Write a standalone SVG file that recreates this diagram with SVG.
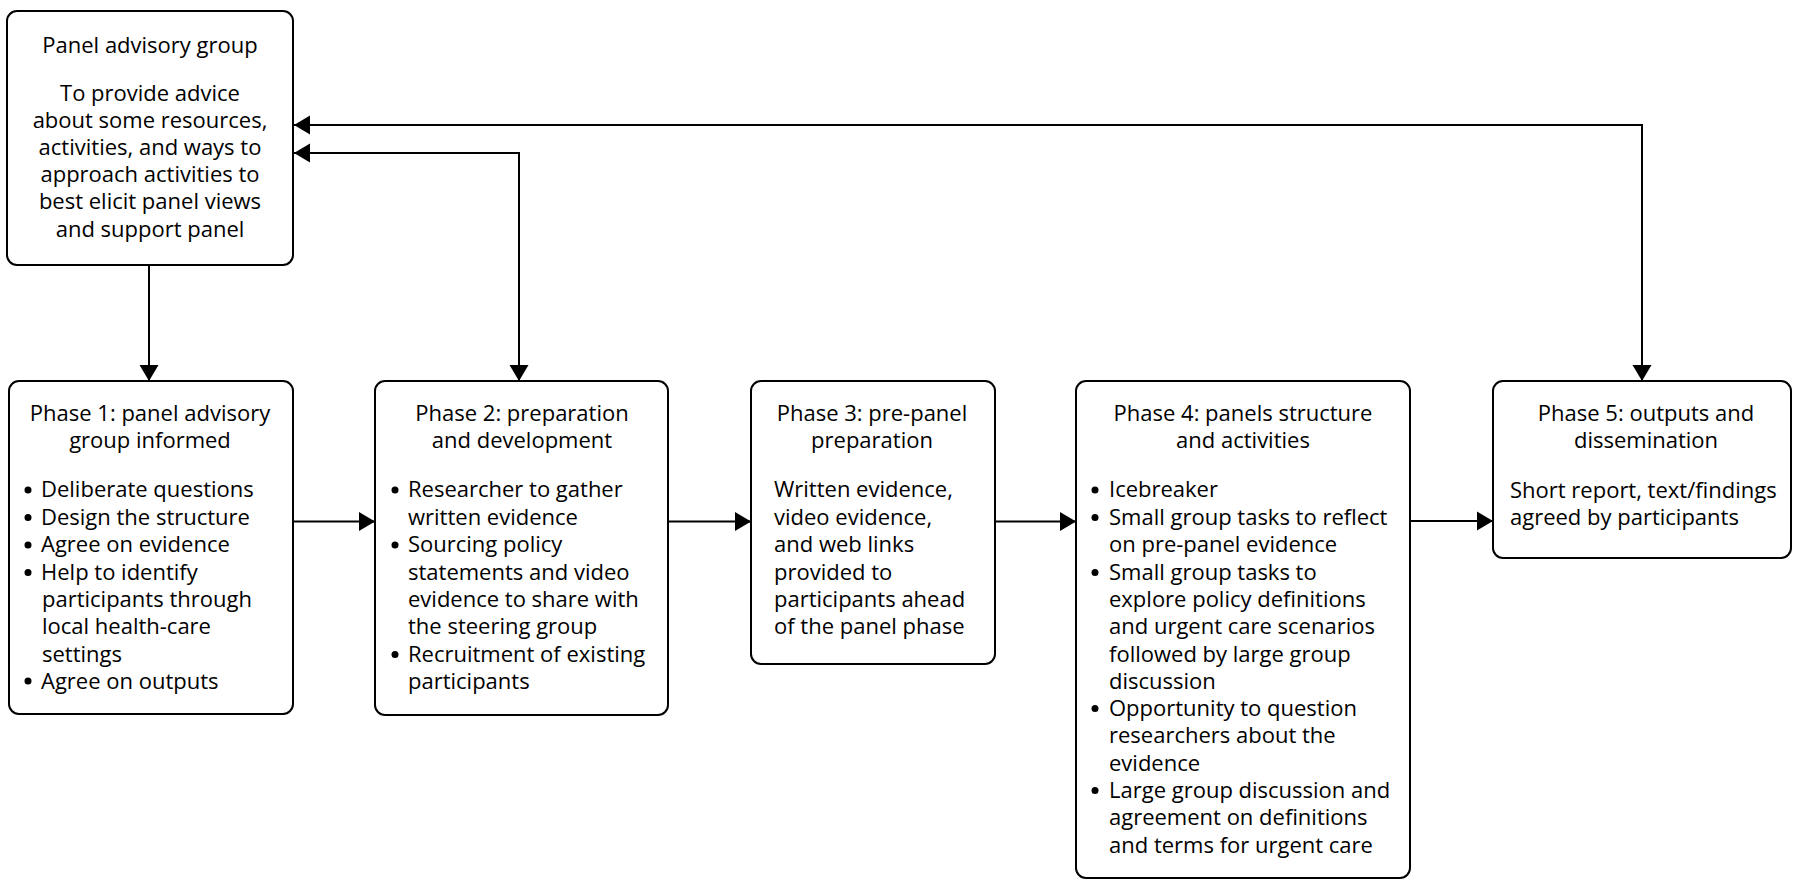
<svg xmlns="http://www.w3.org/2000/svg" width="1794" height="880" viewBox="0 0 1794 880">
<style>
.box{fill:#fff;stroke:#000;stroke-width:2}
text{font-family:"Open Sans","Noto Sans","Liberation Sans",sans-serif;font-size:22px;fill:#000}
.c{text-anchor:middle}
.conn{fill:none;stroke:#000;stroke-width:2}
.dot{fill:#000}
</style>
<defs>
<marker id="ah" markerUnits="userSpaceOnUse" markerWidth="17" markerHeight="20" refX="16" refY="10" orient="auto-start-reverse">
<path d="M0,0.5 L16,10 L0,19.5 z" fill="#000"/>
</marker>
</defs>
<g id="connectors">
<line class="conn" x1="149" y1="265" x2="149" y2="381" marker-end="url(#ah)"/>
<polyline class="conn" points="519,381 519,153 294,153" marker-start="url(#ah)" marker-end="url(#ah)"/>
<polyline class="conn" points="1642,381 1642,125 294,125" marker-start="url(#ah)" marker-end="url(#ah)"/>
<line class="conn" x1="293" y1="521.5" x2="375" y2="521.5" marker-end="url(#ah)"/>
<line class="conn" x1="668" y1="521.5" x2="751" y2="521.5" marker-end="url(#ah)"/>
<line class="conn" x1="995" y1="521.5" x2="1076" y2="521.5" marker-end="url(#ah)"/>
<line class="conn" x1="1410" y1="521" x2="1493" y2="521" marker-end="url(#ah)"/>
</g>
<g id="panel-advisory">
<rect class="box" x="7" y="11" width="286" height="254" rx="10"/>
<text class="c" x="150" y="53">Panel advisory group</text>
<text class="c" x="150" y="101">To provide advice</text>
<text class="c" x="150" y="128">about some resources,</text>
<text class="c" x="150" y="155">activities, and ways to</text>
<text class="c" x="150" y="182">approach activities to</text>
<text class="c" x="150" y="209">best elicit panel views</text>
<text class="c" x="150" y="237">and support panel</text>
</g>
<g id="phase1">
<rect class="box" x="9" y="381" width="284" height="333" rx="10"/>
<text class="c" x="150" y="421">Phase 1: panel advisory</text>
<text class="c" x="150" y="448">group informed</text>
<circle class="dot" cx="28" cy="490" r="3.5"/>
<text x="41" y="497">Deliberate questions</text>
<circle class="dot" cx="28" cy="517.5" r="3.5"/>
<text x="41" y="525">Design the structure</text>
<circle class="dot" cx="28" cy="545" r="3.5"/>
<text x="41" y="552">Agree on evidence</text>
<circle class="dot" cx="28" cy="572.5" r="3.5"/>
<text x="41" y="580">Help to identify</text>
<text x="42" y="607">participants through</text>
<text x="42" y="634">local health-care</text>
<text x="42" y="662">settings</text>
<circle class="dot" cx="28" cy="681" r="3.5"/>
<text x="41" y="689">Agree on outputs</text>
</g>
<g id="phase2">
<rect class="box" x="375" y="381" width="293" height="334" rx="10"/>
<text class="c" x="522" y="421">Phase 2: preparation</text>
<text class="c" x="522" y="448">and development</text>
<circle class="dot" cx="395" cy="490" r="3.5"/>
<text x="408" y="497">Researcher to gather</text>
<text x="408" y="525">written evidence</text>
<circle class="dot" cx="395" cy="545" r="3.5"/>
<text x="408" y="552">Sourcing policy</text>
<text x="408" y="580">statements and video</text>
<text x="408" y="607">evidence to share with</text>
<text x="408" y="634">the steering group</text>
<circle class="dot" cx="395" cy="654.5" r="3.5"/>
<text x="408" y="662">Recruitment of existing</text>
<text x="408" y="689">participants</text>
</g>
<g id="phase3">
<rect class="box" x="751" y="381" width="244" height="283" rx="10"/>
<text class="c" x="872" y="421">Phase 3: pre-panel</text>
<text class="c" x="872" y="448">preparation</text>
<text x="774" y="497">Written evidence,</text>
<text x="774" y="525">video evidence,</text>
<text x="774" y="552">and web links</text>
<text x="774" y="580">provided to</text>
<text x="774" y="607">participants ahead</text>
<text x="774" y="634">of the panel phase</text>
</g>
<g id="phase4">
<rect class="box" x="1076" y="381" width="334" height="497" rx="10"/>
<text class="c" x="1243" y="421">Phase 4: panels structure</text>
<text class="c" x="1243" y="448">and activities</text>
<circle class="dot" cx="1095" cy="490" r="3.5"/>
<text x="1109" y="497">Icebreaker</text>
<circle class="dot" cx="1095" cy="517.5" r="3.5"/>
<text x="1109" y="525">Small group tasks to reflect</text>
<text x="1109" y="552">on pre-panel evidence</text>
<circle class="dot" cx="1095" cy="572.5" r="3.5"/>
<text x="1109" y="580">Small group tasks to</text>
<text x="1109" y="607">explore policy definitions</text>
<text x="1109" y="634">and urgent care scenarios</text>
<text x="1109" y="662">followed by large group</text>
<text x="1109" y="689">discussion</text>
<circle class="dot" cx="1095" cy="708.5" r="3.5"/>
<text x="1109" y="716">Opportunity to question</text>
<text x="1109" y="743">researchers about the</text>
<text x="1109" y="771">evidence</text>
<circle class="dot" cx="1095" cy="790.5" r="3.5"/>
<text x="1109" y="798">Large group discussion and</text>
<text x="1109" y="825">agreement on definitions</text>
<text x="1109" y="853">and terms for urgent care</text>
</g>
<g id="phase5">
<rect class="box" x="1493" y="381" width="298" height="177" rx="10"/>
<text class="c" x="1646" y="421">Phase 5: outputs and</text>
<text class="c" x="1646" y="448">dissemination</text>
<text x="1510" y="498">Short report, text/findings</text>
<text x="1510" y="525">agreed by participants</text>
</g>
</svg>
